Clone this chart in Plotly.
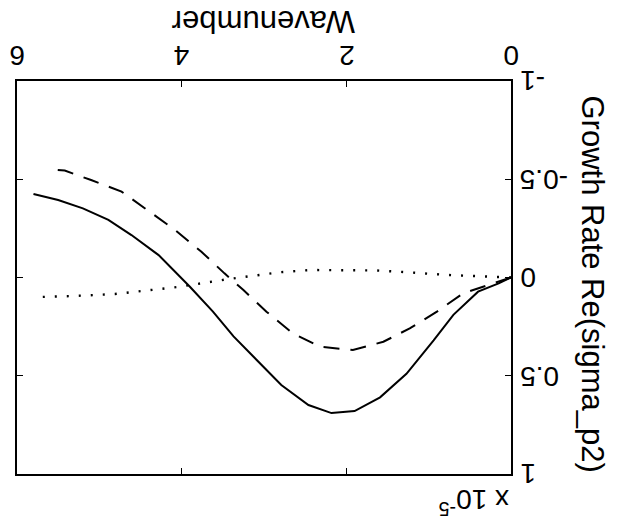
import plotly.graph_objects as go

# Growth-rate curves versus wavenumber (values in units of 1e-5)
k_solid = [0.0, 0.15, 0.40, 0.70, 0.94, 1.27, 1.59, 1.90, 2.18, 2.46, 2.79, 3.09,
           3.37, 3.62, 3.90, 4.28, 4.61, 4.89, 5.20, 5.50, 5.80]
g_solid = [0.0, 0.03, 0.072, 0.19, 0.32, 0.49, 0.61, 0.68, 0.69, 0.649, 0.547, 0.42,
           0.30, 0.174, 0.047, -0.114, -0.216, -0.293, -0.352, -0.394, -0.425]

k_dashed = [0.0, 0.30, 0.58, 0.90, 1.23, 1.55, 1.92, 2.32, 2.65, 2.97, 3.25, 3.48,
            3.76, 4.08, 4.41, 4.73, 5.10, 5.42, 5.62]
g_dashed = [0.0, 0.04, 0.08, 0.174, 0.259, 0.327, 0.369, 0.352, 0.284, 0.174, 0.064,
            -0.021, -0.131, -0.242, -0.343, -0.437, -0.496, -0.544, -0.552]

k_dotted = [0.0, 0.40, 0.78, 1.20, 1.63, 2.0, 2.44, 2.80, 3.01, 3.45, 4.04, 4.40,
            4.81, 5.30, 5.80]
g_dotted = [0.0, -0.007, -0.013, -0.025, -0.036, -0.037, -0.038, -0.027, -0.016,
            0.009, 0.048, 0.066, 0.084, 0.094, 0.10]

x_ticks = [0, 2, 4, 6]
x_tick_text = ["0", "2", "4", "6"]
y_ticks = [-1, -0.5, 0, 0.5, 1]
y_tick_text = ["-1", "-0.5", "0", "0.5", "1"]

x_title = "Wavenumber"
y_title = "Growth Rate Re(sigma_p2)"
exponent_text = "x 10<sup>-5</sup>"

FONT = "Liberation Sans, Arial, Helvetica, sans-serif"
TICK_SIZE = 28
TITLE_SIZE = 31

fig = go.Figure()
fig.add_trace(go.Scatter(x=k_solid, y=g_solid, mode="lines",
                         line=dict(color="black", width=2)))
fig.add_trace(go.Scatter(x=k_dashed, y=g_dashed, mode="lines",
                         line=dict(color="black", width=2, dash="16px,11px")))
fig.add_trace(go.Scatter(x=k_dotted, y=g_dotted, mode="lines",
                         line=dict(color="black", width=2.4, dash="2px,10px")))

annotations = []
# upside-down tick labels along the top edge
for v, t in zip(x_ticks, x_tick_text):
    annotations.append(dict(x=v, xref="x", y=1, yref="paper", text=t,
                            textangle=180, showarrow=False,
                            xanchor="center", yanchor="middle", yshift=25,
                            font=dict(family=FONT, size=TICK_SIZE, color="black")))
# upside-down tick labels along the right edge
for v, t in zip(y_ticks, y_tick_text):
    annotations.append(dict(x=1, xref="paper", y=v, yref="y", text=t,
                            textangle=180, showarrow=False,
                            xanchor="left", yanchor="middle", xshift=7,
                            font=dict(family=FONT, size=TICK_SIZE, color="black")))
annotations.append(dict(x=0.5, xref="paper", y=1, yref="paper", text=x_title,
                        textangle=180, showarrow=False, xanchor="center",
                        yanchor="middle", yshift=59,
                        font=dict(family=FONT, size=TITLE_SIZE, color="black")))
annotations.append(dict(x=1, xref="paper", y=0.5, yref="paper", text=y_title,
                        textangle=90, showarrow=False, xanchor="center",
                        yanchor="middle", xshift=81, yshift=-6,
                        font=dict(family=FONT, size=TITLE_SIZE, color="black")))
annotations.append(dict(x=1, xref="paper", y=0, yref="paper", text=exponent_text,
                        textangle=180, showarrow=False, xanchor="right",
                        yanchor="top", xshift=0, yshift=-8,
                        font=dict(family=FONT, size=TICK_SIZE, color="black")))

axis_common = dict(showgrid=False, zeroline=False, showline=True, linecolor="black",
                   linewidth=1.6, mirror="ticks", ticks="inside", ticklen=6,
                   tickwidth=1.3, tickcolor="black", showticklabels=False)

fig.update_layout(
    width=630, height=529,
    margin=dict(l=17, r=119, t=81, b=55),
    paper_bgcolor="white", plot_bgcolor="white",
    showlegend=False,
    xaxis=dict(range=[6, 0], tickvals=x_ticks, side="top", **axis_common),
    yaxis=dict(range=[1, -1], tickvals=y_ticks, side="right", **axis_common),
    annotations=annotations,
)

fig.write_html("out.html")
